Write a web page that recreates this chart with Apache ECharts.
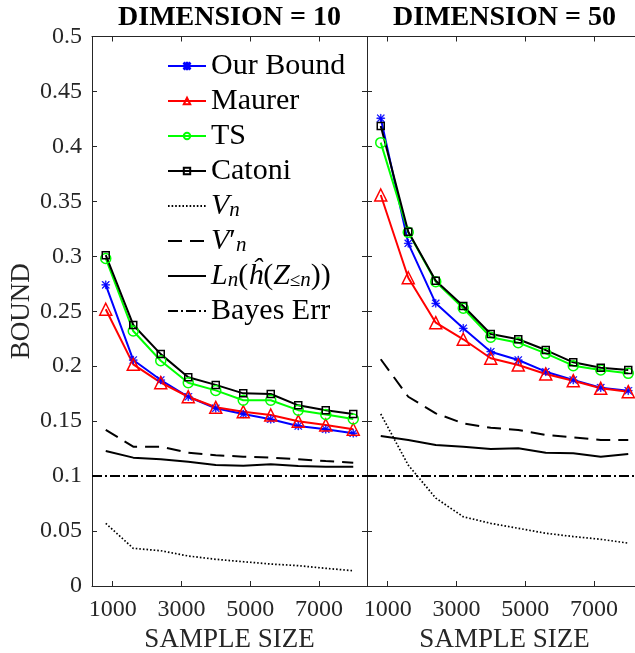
<!DOCTYPE html>
<html><head><meta charset="utf-8">
<script src="https://cdn.jsdelivr.net/npm/echarts@6/dist/echarts.min.js"></script>
<style>html,body{margin:0;padding:0;background:#fff}#c{width:635px;height:653px}</style>
</head><body><div id="c"></div>
<script>
// ---------- data ----------
const sampleSizes = [800, 1600, 2400, 3200, 4000, 4800, 5600, 6400, 7200, 8000];
const xTicks = [1000, 3000, 5000, 7000];
const xRange = [400, 8400];
const yRange = [0, 0.5];
const yStep = 0.05;
const bayesErr = 0.1;
const panelTitles = ['DIMENSION = 10', 'DIMENSION = 50'];
const seriesNames = ['Our Bound', 'Maurer', 'TS', 'Catoni', 'V_n', "V'_n", 'L_n', 'Bayes Err'];

// dimension = 10
const ourBound10 = [0.274, 0.2056, 0.1874, 0.1722, 0.1617, 0.1565, 0.1517, 0.1456, 0.1426, 0.1390];
const maurer10   = [0.2518, 0.2017, 0.1850, 0.1722, 0.1626, 0.1586, 0.1556, 0.1500, 0.1465, 0.1426];
const ts10       = [0.298, 0.232, 0.205, 0.185, 0.178, 0.169, 0.169, 0.160, 0.156, 0.152];
const catoni10   = [0.301, 0.2375, 0.211, 0.190, 0.183, 0.1753, 0.1747, 0.1644, 0.160, 0.1565];
const vn10       = [0.057, 0.0343, 0.0321, 0.0273, 0.0243, 0.0221, 0.020, 0.0185, 0.0161, 0.0139];
const vnPrime10  = [0.142, 0.1268, 0.1268, 0.1213, 0.119, 0.1177, 0.1168, 0.1153, 0.1137, 0.1122];
const ln10       = [0.1228, 0.1168, 0.1153, 0.1131, 0.1101, 0.1095, 0.1107, 0.1092, 0.1086, 0.1086];

// dimension = 50
const ourBound50 = [0.4256, 0.3118, 0.2572, 0.2345, 0.2132, 0.2056, 0.195, 0.1874, 0.1805, 0.1777];
const maurer50   = [0.3558, 0.2805, 0.2396, 0.2245, 0.2072, 0.2011, 0.1929, 0.1868, 0.1799, 0.1768];
const ts50       = [0.4034, 0.3218, 0.2769, 0.2527, 0.2263, 0.2214, 0.2117, 0.2005, 0.1965, 0.1935];
const catoni50   = [0.4186, 0.3224, 0.2778, 0.2548, 0.2293, 0.2245, 0.2147, 0.2035, 0.1986, 0.1965];
const vn50       = [0.1565, 0.110, 0.080, 0.063, 0.057, 0.0525, 0.048, 0.045, 0.0425, 0.039];
const vnPrime50  = [0.2063, 0.1722, 0.1571, 0.148, 0.144, 0.142, 0.1374, 0.1353, 0.1328, 0.1328];
const ln50       = [0.1365, 0.1328, 0.1283, 0.1268, 0.1247, 0.1253, 0.1213, 0.1207, 0.1177, 0.1201];

// ---------- chart ----------
const FONT = "'Liberation Serif', 'Times New Roman', Times, serif";
const AX = '#262626';
const chart = echarts.init(document.getElementById('c'), null, {renderer: 'canvas'});

const asterisk = 'path://M4.5,0h1v10h-1z M0,4.5h10v1h-10z M1.0,0.3L9.7,9.0L9.0,9.7L0.3,1.0z M9.0,0.3L9.7,1.0L1.0,9.7L0.3,9.0z';

const zip = ys => sampleSizes.map((x, i) => [x, ys[i]]);

function markerSeries(name, ys, p, color, symbol, size, fill, bw) {
  return {
    name, type: 'line', xAxisIndex: p * 2, yAxisIndex: p * 2, data: zip(ys),
    symbol, symbolSize: size, showSymbol: true, z: 5,
    lineStyle: {color, width: 2},
    itemStyle: {color: fill, borderColor: color, borderWidth: bw},
    emphasis: {disabled: true}
  };
}
function plainSeries(name, data, p, dash, width) {
  return {
    name, type: 'line', xAxisIndex: p * 2, yAxisIndex: p * 2, data,
    symbol: 'none', showSymbol: false, z: 3,
    lineStyle: {color: '#000', width, type: dash},
    itemStyle: {color: 'rgba(0,0,0,0)', borderWidth: 0},
    emphasis: {disabled: true}
  };
}

const panels = [
  {ob: ourBound10, ma: maurer10, ts: ts10, ca: catoni10, vn: vn10, vp: vnPrime10, ln: ln10},
  {ob: ourBound50, ma: maurer50, ts: ts50, ca: catoni50, vn: vn50, vp: vnPrime50, ln: ln50}
];

const series = [];
panels.forEach((d, p) => {
  series.push(markerSeries(seriesNames[0], d.ob, p, '#0000ff', asterisk, 8, '#0000ff', 0.5));
  series.push(markerSeries(seriesNames[1], d.ma, p, '#ff0000', 'triangle', 12, 'rgba(255,255,255,0)', 1.5));
  series.push(markerSeries(seriesNames[2], d.ts, p, '#00ff00', 'circle', 10, 'rgba(255,255,255,0)', 1.5));
  series.push(markerSeries(seriesNames[3], d.ca, p, '#000000', 'rect', 7, 'rgba(255,255,255,0)', 1.5));
  series.push(plainSeries(seriesNames[4], zip(d.vn), p, [1.6, 2], 1.7));
  series.push(plainSeries(seriesNames[5], zip(d.vp), p, [14, 8], 2));
  series.push(plainSeries(seriesNames[6], zip(d.ln), p, 'solid', 2));
  series.push(plainSeries(seriesNames[7], xRange.map(x => [x, bayesErr]), p, [10, 3, 2, 3], 2));
});

const gridLefts = [92, 367];
const grids = gridLefts.map(l => ({left: l, top: 36.5, width: 275, height: 549.5,
  containLabel: false, outerBoundsMode: 'none'}));

const xAxes = [], yAxes = [];
gridLefts.forEach((l, g) => {
  ['bottom', 'top'].forEach(pos => {
    const lab = pos === 'bottom';
    xAxes.push({
      type: 'value', gridIndex: g, position: pos, min: xRange[0], max: xRange[1],
      axisLine: {show: true, onZero: false, lineStyle: {color: AX, width: 1}},
      axisTick: {show: true, inside: true, length: 5, customValues: xTicks, lineStyle: {color: AX}},
      axisLabel: {show: lab, customValues: xTicks, margin: 12, fontFamily: FONT, fontSize: 24, color: AX,
                  formatter: v => String(v)},
      splitLine: {show: false},
      name: lab ? 'SAMPLE SIZE' : '', nameLocation: 'middle', nameGap: 40,
      nameTextStyle: {fontFamily: FONT, fontSize: 27, color: AX}
    });
  });
  ['left', 'right'].forEach(pos => {
    const lab = (g === 0 && pos === 'left');
    yAxes.push({
      type: 'value', gridIndex: g, position: pos, min: yRange[0], max: yRange[1], interval: yStep,
      axisLine: {show: true, onZero: false, lineStyle: {color: AX, width: 1}},
      axisTick: {show: true, inside: true, length: 5, lineStyle: {color: AX}},
      axisLabel: {show: lab, margin: 10, fontFamily: FONT, fontSize: 24, color: AX},
      splitLine: {show: false},
      name: lab ? 'BOUND' : '', nameLocation: 'middle', nameGap: 57,
      nameTextStyle: {fontFamily: FONT, fontSize: 27, color: AX}
    });
  });
});

const legendLabels = {
  'Our Bound': '{rm|Our Bound}',
  'Maurer': '{rm|Maurer}',
  'TS': '{rm|TS}',
  'Catoni': '{rm|Catoni}',
  'V_n': '{it|V}{sub|n}',
  "V'_n": '{it|V}{sup|′}{sub|n}',
  'L_n': '{it|L}{sub|n}{rm|(}{it|ĥ}{rm|(}{it|Z}{subrm|≤}{sub|n}{rm|))}',
  'Bayes Err': '{rm|Bayes Err}'
};

chart.setOption({
  animation: false,
  backgroundColor: '#fff',
  title: panelTitles.map((t, i) => ({
    text: t, left: gridLefts[i] + 137.5, top: 4, padding: 0, textAlign: 'center',
    textStyle: {fontFamily: FONT, fontWeight: 'bold', fontSize: 28, color: '#000'}
  })),
  legend: {
    orient: 'vertical', left: 167, top: 51, padding: 0,
    itemWidth: 38, itemHeight: 8, itemGap: 5,
    data: seriesNames,
    formatter: n => legendLabels[n],
    textStyle: {
      fontFamily: FONT, fontSize: 30, color: '#000', lineHeight: 30,
      rich: {
        it: {fontFamily: FONT, fontStyle: 'italic', fontSize: 30, lineHeight: 30, color: '#000'},
        rm: {fontFamily: FONT, fontSize: 30, lineHeight: 30, color: '#000'},
        sub: {fontFamily: FONT, fontStyle: 'italic', fontSize: 21, lineHeight: 14, verticalAlign: 'bottom', color: '#000'},
        subrm: {fontFamily: FONT, fontSize: 19, lineHeight: 14, verticalAlign: 'bottom', color: '#000'},
        sup: {fontFamily: FONT, fontSize: 30, lineHeight: 18, verticalAlign: 'top', color: '#000'}
      }
    }
  },
  grid: grids,
  xAxis: xAxes,
  yAxis: yAxes,
  series
});
</script>
</body></html>
